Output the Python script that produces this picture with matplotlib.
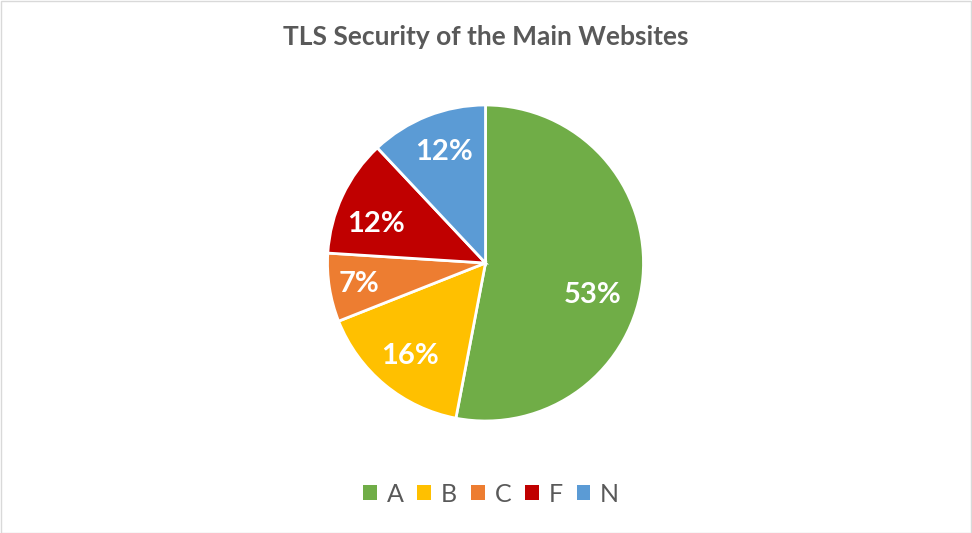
import matplotlib
matplotlib.use("Agg")
import matplotlib.pyplot as plt
from matplotlib.patches import Rectangle

# data
grades = ["A", "B", "C", "F", "N"]
shares = [53, 16, 7, 12, 12]
colors = ["#70AD47", "#FFC000", "#ED7D31", "#C00000", "#5B9BD5"]

# "best fit" spots of the percent labels, in pie radius units
label_spots = [(0.68, -0.20), (-0.48, -0.59), (-0.80, -0.13), (-0.69, 0.25), (-0.26, 0.70)]

plt.rcParams["font.family"] = ["Lato", "DejaVu Sans"]

fig = plt.figure(figsize=(9.72, 5.33), dpi=100)
fig.patch.set_facecolor("white")

# pie axes: center ~ (486, 263) px, radius ~158 px
ax = fig.add_axes([(485.5 - 158) / 972, 1 - (263 + 158) / 533, 316 / 972, 316 / 533])
wedges, texts, autotexts = ax.pie(
    shares, colors=colors, startangle=90, counterclock=False,
    radius=1, autopct="%1.0f%%", pctdistance=0.74,
    wedgeprops=dict(edgecolor="white", linewidth=2),
    textprops=dict(color="white", fontsize=21, fontweight="bold"),
)
for t, pos in zip(autotexts, label_spots):
    t.set_position(pos)
ax.set_xlim(-1, 1)
ax.set_ylim(-1, 1)
ax.set_aspect("equal")

fig.text(486 / 972, 1 - 37 / 533, "TLS Security of the Main Websites",
         ha="center", va="center", fontsize=19, fontweight="bold", color="#595959")

leg = fig.legend(wedges, grades, loc="center", bbox_to_anchor=(491 / 972, 1 - 494 / 533),
                 ncol=5, frameon=False, fontsize=18, handlelength=0.55, handleheight=0.55,
                 handletextpad=0.4, columnspacing=0.55, labelcolor="#595959")
for h in leg.legend_handles:
    h.set_edgecolor("none")

fig.add_artist(Rectangle((0.5 / 972, 0.5 / 533), 1 - 1.5 / 972, 1 - 1.5 / 533,
                         transform=fig.transFigure, fill=False,
                         edgecolor="#D9D9D9", linewidth=1))

fig.savefig("out.png", dpi=100)
